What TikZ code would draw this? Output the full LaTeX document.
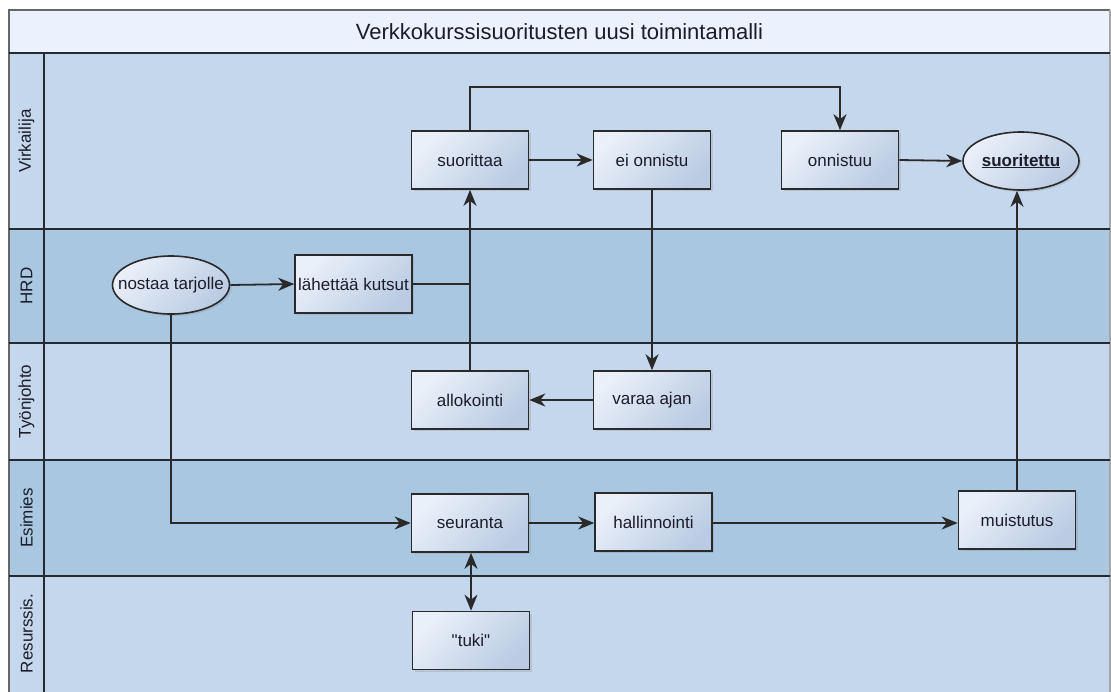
\documentclass[tikz,border=0pt]{standalone}
\usepackage{fontspec}
\setmainfont{Liberation Sans}
\usetikzlibrary{arrows.meta,shapes.geometric,shadows}

\definecolor{titlefill}{HTML}{EBF2FD}
\definecolor{lanelight}{HTML}{C5D7EC}
\definecolor{lanedark}{HTML}{A9C7E1}
\definecolor{boxlight}{HTML}{EAF0F9}
\definecolor{boxdark}{HTML}{BACBE3}
\definecolor{edgecol}{HTML}{2A2A2A}
\definecolor{framecol}{HTML}{262A30}
\definecolor{txtcol}{HTML}{1C1C2A}

\newcommand\boxtextfont{\fontsize{17}{20}\selectfont}
\newcommand\titletextfont{\fontsize{22}{26}\selectfont}
\newcommand\lanetextfont{\fontsize{17}{20}\selectfont}

\begin{document}
\begin{tikzpicture}[x=1pt,y=-1pt,
  laneline/.style={draw=framecol, line width=1.8pt},
  proc/.style={rectangle, draw=edgecol, line width=1.6pt,
    minimum width=117pt, minimum height=58pt, inner sep=0pt,
    top color=boxlight, bottom color=boxdark, shading angle=45,
    drop shadow={shadow xshift=2pt, shadow yshift=-2pt, opacity=0.22},
    font=\boxtextfont, text=txtcol},
  evt/.style={ellipse, draw=edgecol, line width=1.6pt,
    minimum width=117pt, minimum height=58pt, inner sep=0pt,
    top color=boxlight, bottom color=boxdark, shading angle=45,
    drop shadow={shadow xshift=2pt, shadow yshift=-2pt, opacity=0.22}},
  evttext/.style={font=\boxtextfont, text=txtcol},
  link/.style={draw=edgecol, line width=1.8pt},
  arr/.style={link, -{Stealth[length=16pt,width=13pt,inset=5pt]}},
  biarr/.style={link, {Stealth[length=16pt,width=13pt,inset=5pt]}-{Stealth[length=16pt,width=13pt,inset=5pt]}},
  lanelabel/.style={rotate=90, font=\lanetextfont, text=txtcol}
]
\useasboundingbox (0,0) rectangle (1111,691);
\clip (0,0) rectangle (1111,691);
\fill[white] (0,0) rectangle (1111,691);

% pool background: title band and five lanes
\fill[titlefill] (9,10) rectangle (1110,53);
\fill[lanelight] (9,53) rectangle (1110,229);
\fill[lanedark]  (9,229) rectangle (1110,343);
\fill[lanelight] (9,343) rectangle (1110,460);
\fill[lanedark]  (9,460) rectangle (1110,576);
\fill[lanelight] (9,576) rectangle (1110,700);

% pool frame and lane separators
\draw[draw=gray!80!black, line width=1.8pt] (9,700) -- (9,10) -- (1110,10);
\draw[draw=gray!70, line width=1.2pt] (1110,10) -- (1110,700);
\foreach \yy in {53,229,343,460,576}
  \draw[laneline] (9,\yy) -- (1110,\yy);
\draw[laneline] (44,53) -- (44,700);

% title and lane names
\node[font=\titletextfont, text=txtcol] (title) at (559.5,31.5) {Verkkokurssisuoritusten uusi toimintamalli};
\node[lanelabel] (lane1) at (26.5,141) {Virkailija};
\node[lanelabel] (lane2) at (26.5,286) {HRD};
\node[lanelabel] (lane3) at (26.5,401.5) {Työnjohto};
\node[lanelabel] (lane4) at (26.5,518) {Esimies};
\node[lanelabel] (lane5) at (26.5,633.5) {Resurssis.};

% Virkailija
\node[proc] (suorittaa) at (470,160) {suorittaa};
\node[proc] (eionnistu) at (652,160) {ei onnistu};
\node[proc] (onnistuu) at (840,160) {onnistuu};
\node[evt, minimum width=116pt, label={[evttext]center:{\bfseries\underline{suoritettu}}}] (suoritettu) at (1021,161) {};

% HRD
\node[evt, label={[evttext]center:nostaa tarjolle}] (nostaa) at (171,285) {};
\node[proc] (lahettaa) at (353.5,284) {lähettää kutsut};

% Työnjohto
\node[proc] (allokointi) at (470,400) {allokointi};
\node[proc] (varaa) at (652,400) {varaa ajan};

% Esimies
\node[proc] (seuranta) at (470,523) {seuranta};
\node[proc] (hallinnointi) at (653.5,522) {hallinnointi};
\node[proc] (muistutus) at (1017,520) {muistutus};

% Resurssis.
\node[proc] (tuki) at (471,640.5) {\textquotedbl tuki\textquotedbl};

% connectors
\coordinate (join) at (allokointi.north |- lahettaa.east);
\coordinate (over) at (470,87);
\draw[arr] (nostaa.east) -- (lahettaa.west);
\draw[link] (lahettaa.east) -- (join);
\draw[arr] (allokointi.north) -- (suorittaa.south);
\draw[arr] (suorittaa.north) -- (over) -| (onnistuu.north);
\draw[arr] (suorittaa.east) -- (eionnistu.west);
\draw[arr] (eionnistu.south) -- (varaa.north);
\draw[arr] (varaa.west) -- (allokointi.east);
\draw[arr] (onnistuu.east) -- (suoritettu.west);
\draw[arr] (nostaa.south) |- (seuranta.west);
\draw[arr] (seuranta.east) -- (hallinnointi.west |- seuranta.east);
\draw[arr] (hallinnointi.east |- seuranta.east) -- (muistutus.west |- seuranta.east);
\draw[arr] (muistutus.north) -- (muistutus.north |- suoritettu.south);
\draw[biarr] (tuki.north) -- (tuki.north |- seuranta.south);
\end{tikzpicture}
\end{document}
